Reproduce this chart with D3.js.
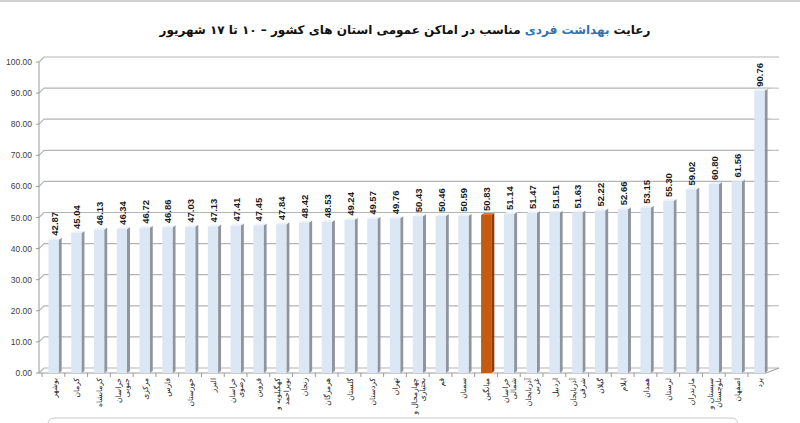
<!DOCTYPE html>
<html>
<head>
<meta charset="utf-8">
<script src="https://cdn.jsdelivr.net/npm/d3@7"></script>
<style>
  body { margin: 0; background: #fff; }
  svg { display: block; }
</style>
</head>
<body>
<div id="chart-div"></div>
<script>
// data
const provinces = ["بوشهر", "کرمان", "کرمانشاه", "خراسان جنوبی", "مرکزی", "فارس", "خوزستان", "البرز",
  "خراسان رضوی", "قزوین", "کهگیلویه و بویراحمد", "زنجان", "هرمزگان", "گلستان", "کردستان", "تهران",
  "چهارمحال و بختیاری", "قم", "سمنان", "میانگین", "خراسان شمالی", "آذربایجان غربی", "اردبیل",
  "آذربایجان شرقی", "گیلان", "ایلام", "همدان", "لرستان", "مازندران", "سیستان و بلوچستان", "اصفهان", "یزد"];
const values = [42.87, 45.04, 46.13, 46.34, 46.72, 46.86, 47.03, 47.13, 47.41, 47.45, 47.84, 48.42,
  48.53, 49.24, 49.57, 49.76, 50.43, 50.46, 50.59, 50.83, 51.14, 51.47, 51.51, 51.63, 52.22, 52.66,
  53.15, 55.30, 59.02, 60.80, 61.56, 90.76];
const yTicks = [0, 10, 20, 30, 40, 50, 60, 70, 80, 90, 100];
const highlight = "میانگین";

const WIDTH = 800;
const HEIGHT = 423;
const DEPTH = { x: 5, y: -5 };   // fake 3d offset of the back wall
const BAR_SIDE = 3;

var svg, x, y;

setup();

function setup () {
  svg = d3.select("#chart-div")
          .append("svg")
          .attr("width", WIDTH)
          .attr("height", HEIGHT);

  x = d3.scaleBand().domain(provinces).range([41.6, 771.4]).paddingInner(0.55).paddingOuter(0.3);
  y = d3.scaleLinear().domain([0, 100]).range([373, 62]);

  drawTitle();
  drawGrid();
  drawBars();
  drawLabels();
}

function drawTitle () {
  const t = svg.append("text")
    .attr("x", 405)
    .attr("y", 34)
    .attr("direction", "rtl")
    .attr("text-anchor", "middle")
    .style("font-family", "DejaVu Sans")
    .style("font-weight", "bold")
    .style("font-size", "12px");
  t.append("tspan").attr("fill", "#111").text("رعایت ");
  t.append("tspan").attr("fill", "#2e74b5").text("بهداشت فردی");
  t.append("tspan").attr("fill", "#111").text(" مناسب در اماکن عمومی استان های کشور – ۱۰  تا ۱۷ شهریور");

  // frame edges
  svg.append("line").attr("x1", 0).attr("x2", WIDTH).attr("y1", 1).attr("y2", 1)
     .attr("stroke", "#d0d0d0").attr("stroke-width", 2);
  svg.append("rect").attr("x", 48).attr("y", 418).attr("width", 690).attr("height", 30)
     .attr("rx", 6).attr("fill", "none").attr("stroke", "#c8c8c8");
}

function drawGrid () {
  const x0 = 39, x1 = 766;
  const g = svg.append("g").attr("class", "grid");

  g.selectAll(".gridline")
    .data(yTicks)
    .join("path")
    .attr("class", "gridline")
    .attr("fill", "none")
    .attr("stroke", "#b4b4b4")
    .attr("stroke-width", 1.2)
    .attr("d", d => `M${x0},${y(d)} L${x0 + DEPTH.x},${y(d) + DEPTH.y} L${x1 + DEPTH.x},${y(d) + DEPTH.y}`);

  // right wall ticks
  g.selectAll(".rtick")
    .data(yTicks)
    .join("line")
    .attr("class", "rtick")
    .attr("stroke", "#b4b4b4")
    .attr("x1", x1 + DEPTH.x).attr("x2", x1 + DEPTH.x + 8)
    .attr("y1", d => y(d) + DEPTH.y).attr("y2", d => y(d) + DEPTH.y);

  // left axis
  g.append("line")
    .attr("x1", x0).attr("x2", x0)
    .attr("y1", y(100)).attr("y2", y(0))
    .attr("stroke", "#9a9a9a");
  g.selectAll(".ltick")
    .data(yTicks)
    .join("line")
    .attr("class", "ltick")
    .attr("stroke", "#9a9a9a")
    .attr("x1", x0 - 3).attr("x2", x0)
    .attr("y1", d => y(d)).attr("y2", d => y(d));

  // floor front edge
  g.append("path")
    .attr("fill", "none")
    .attr("stroke", "#9a9a9a")
    .attr("d", `M${x0},${y(0)} L${x1},${y(0)} L${x1 + DEPTH.x + 8},${y(0) + DEPTH.y}`);

  g.selectAll(".xtick")
    .data(provinces)
    .join("line")
    .attr("class", "xtick")
    .attr("stroke", "#9a9a9a")
    .attr("x1", d => x(d) - x.step() * 0.28).attr("x2", d => x(d) - x.step() * 0.28)
    .attr("y1", y(0)).attr("y2", y(0) + 4);

  g.selectAll(".ylabel")
    .data(yTicks)
    .join("text")
    .attr("class", "ylabel")
    .attr("x", 32)
    .attr("y", d => y(d) + 3)
    .attr("text-anchor", "end")
    .attr("fill", "#404040")
    .style("font-family", "Liberation Sans")
    .style("font-size", "8.5px")
    .text(d => d.toFixed(2));
}

function drawBars () {
  const bars = svg.append("g").attr("class", "bars")
    .selectAll("g")
    .data(provinces)
    .join("g");

  const isHi = d => d === highlight;

  // side face
  bars.append("path")
    .attr("fill", d => isHi(d) ? "#8a3c0a" : "#8e959c")
    .attr("d", (d, i) => {
      const xr = x(d) + x.bandwidth();
      return `M${xr},${y(values[i])} L${xr + BAR_SIDE},${y(values[i]) - 2} L${xr + BAR_SIDE},${y(0) - 2} L${xr},${y(0)} Z`;
    });

  // top face
  bars.append("path")
    .attr("fill", d => isHi(d) ? "#e07a30" : "#eef3fa")
    .attr("d", (d, i) => {
      const xl = x(d), xr = x(d) + x.bandwidth();
      return `M${xl},${y(values[i])} L${xl + BAR_SIDE},${y(values[i]) - 2} L${xr + BAR_SIDE},${y(values[i]) - 2} L${xr},${y(values[i])} Z`;
    });

  // front face
  bars.append("rect")
    .attr("x", d => x(d))
    .attr("y", (d, i) => y(values[i]))
    .attr("width", x.bandwidth())
    .attr("height", (d, i) => y(0) - y(values[i]))
    .attr("fill", d => isHi(d) ? "#c55a11" : "#dce7f5");
}

// long names go on two lines, e.g. "سیستان و" / "بلوچستان"
function splitName (name) {
  const k = name.indexOf(" و ");
  if (k > 0) return [name.slice(0, k + 2), name.slice(k + 3)];
  const s = name.indexOf(" ");
  if (s > 0) return [name.slice(0, s), name.slice(s + 1)];
  return [name];
}

function drawLabels () {
  // value labels above bars
  svg.append("g").selectAll("text")
    .data(provinces)
    .join("text")
    .attr("transform", (d, i) => `translate(${x(d) + x.bandwidth() / 2 + 4},${y(values[i]) - 4}) rotate(-90)`)
    .attr("text-anchor", "start")
    .attr("fill", "#1a1a1a")
    .style("font-family", "Liberation Sans")
    .style("font-weight", "bold")
    .style("font-size", "9.5px")
    .text((d, i) => values[i].toFixed(2));

  // category labels under the axis
  const cat = svg.append("g").selectAll("text")
    .data(provinces)
    .join("text")
    .attr("transform", d => {
      const n = splitName(d).length;
      return `translate(${x(d) + x.bandwidth() / 2 + 3 - (n - 1) * 4},${y(0) + 5}) rotate(-90)`;
    })
    .attr("text-anchor", "end")
    .attr("fill", "#222")
    .style("font-family", "DejaVu Sans")
    .style("font-size", "7.5px");

  cat.selectAll("tspan")
    .data(d => splitName(d))
    .join("tspan")
    .attr("x", 0)
    .attr("dy", (d, i) => i === 0 ? 0 : 8.5)
    .text(d => d);
}
</script>
</body>
</html>
